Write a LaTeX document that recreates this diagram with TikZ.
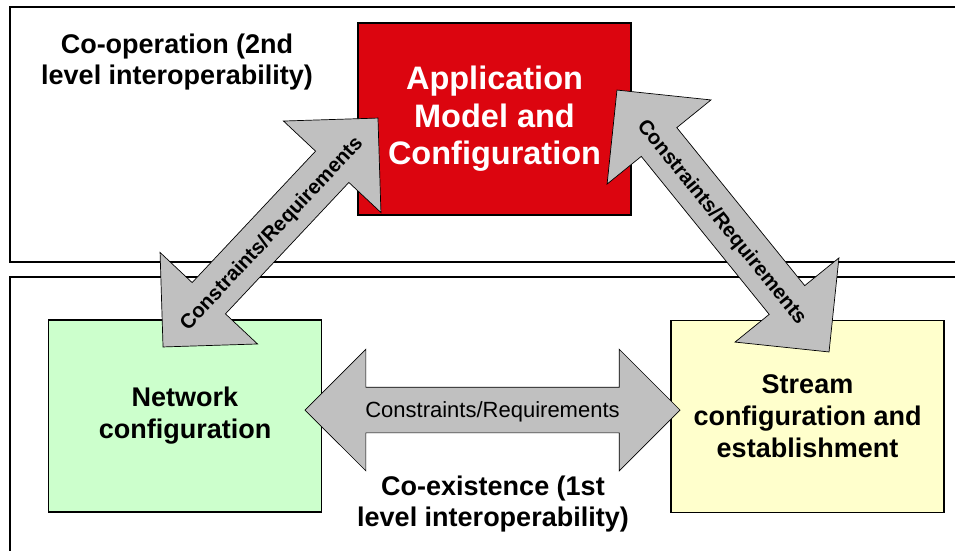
\documentclass[tikz,border=0pt]{standalone}
\usepackage{fontspec}
\setmainfont{Liberation Sans}
\usetikzlibrary{shapes.arrows}

\definecolor{appred}{RGB}{220,5,15}
\definecolor{netgreen}{RGB}{204,255,204}
\definecolor{streamyellow}{RGB}{255,255,204}
\definecolor{arrowgray}{RGB}{192,192,192}

% text that does not stretch the arrow shaft
\newcommand{\slimtext}[1]{\makebox[0pt]{#1}}

\begin{document}
\begin{tikzpicture}[x=1pt, y=-1pt,
    region/.style={draw, line width=1.5pt},
    block/.style={draw, line width=1.2pt, minimum width=273pt, minimum height=192pt,
        inner sep=0pt, align=center, font=\fontsize{27}{32}\selectfont\bfseries},
    fatarrow/.style={double arrow, draw, line width=0.7pt, fill=arrowgray,
        double arrow tip angle=90, inner xsep=0pt, inner ysep=0pt,
        text height=30pt, text depth=15pt, font=\fontsize{20.5}{24}\selectfont\bfseries},
    caption/.style={align=center, font=\fontsize{27}{31.5}\selectfont\bfseries}]

    % Fix the page to the reference size
    \useasboundingbox (0,0) rectangle (955,550);
    \clip (0,0) rectangle (955,550);

    % The two interoperability levels, open to the right and bottom
    \draw[region] (10,7) rectangle (975,262);
    \draw[region] (10,277) rectangle (975,575);

    % Level captions
    \node[caption] (coop) at (177,62) {Co-operation (2nd\\level interoperability)};
    \node[caption] (coex) at (493,504) {Co-existence (1st\\level interoperability)};

    % The three configuration blocks
    \node[block, fill=appred, text=white, font=\fontsize{32.5}{37.5}\selectfont\bfseries]
        (app) at (494.5,119) {Application\\Model and\\Configuration};
    \node[block, fill=netgreen] (net) at (185,416) {Network\\configuration};
    \node[block, fill=streamyellow] (stream) at (807.5,416.5)
        {Stream\\configuration and\\establishment};

    % Constraints/Requirements arrows between the blocks
    \node[fatarrow, double arrow head extend=44pt, minimum height=314pt, rotate=46.8]
        (netapp) at (270.5,232.5) {\slimtext{Constraints/Requirements}};
    \node[fatarrow, double arrow head extend=44pt, minimum height=337pt, rotate=-51]
        (appstream) at (723,221) {\slimtext{Constraints/Requirements}};
    \node[fatarrow, double arrow head extend=38pt, minimum height=375pt,
        font=\fontsize{22}{26}\selectfont]
        (netstream) at (492.5,410) {\slimtext{Constraints/Requirements}};

\end{tikzpicture}
\end{document}
